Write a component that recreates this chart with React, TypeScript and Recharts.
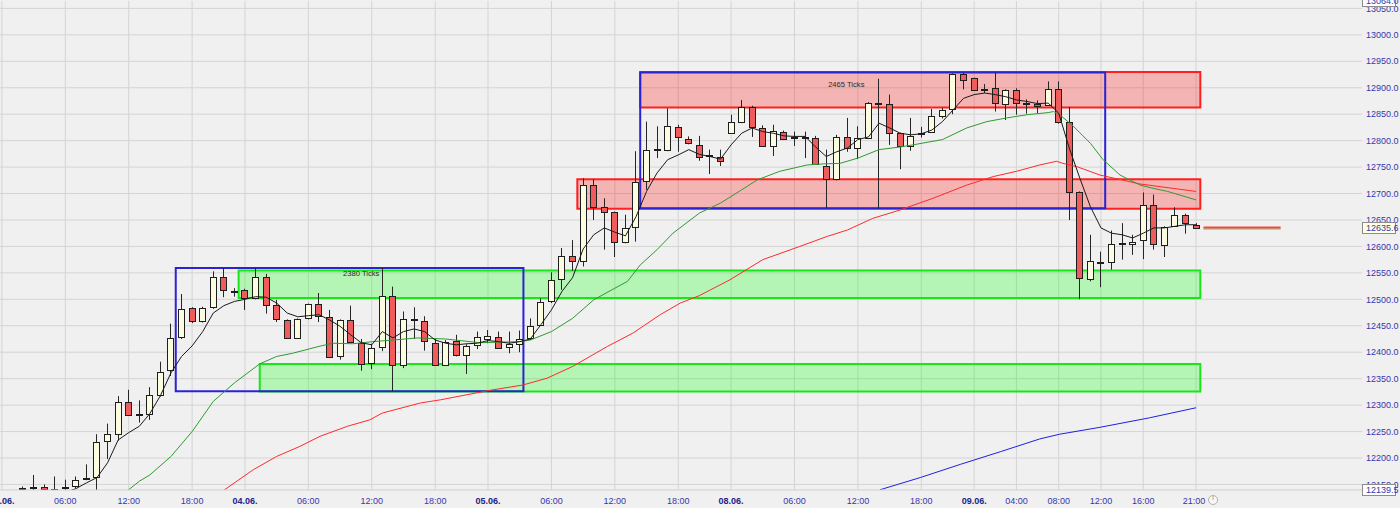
import React from 'react';
import {
  ComposedChart,
  Bar,
  Line,
  XAxis,
  YAxis,
  CartesianGrid,
  ReferenceArea,
  ReferenceLine,
  ReferenceDot,
} from 'recharts';

type Ohlc = [number, number, number, number]; // open, high, low, close

// hourly candles, one list per session (hour 0 = first candle of the day)
const day0306: Ohlc[] = [ // starts at 02:00
  [12142, 12146, 12134, 12143], [12144, 12168, 12134, 12145], [12145, 12150, 12134, 12141],
  [12140, 12165, 12134, 12141], [12143, 12159, 12138, 12145], [12147, 12165, 12143, 12159],
  [12161, 12188, 12158, 12162], [12164, 12245, 12138, 12230], [12232, 12265, 12198, 12245],
  [12246, 12317, 12233, 12306], [12306, 12329, 12280, 12281], [12281, 12309, 12267, 12283],
  [12284, 12334, 12272, 12319], [12320, 12382, 12316, 12363], [12367, 12454, 12355, 12427],
  [12429, 12510, 12425, 12481], [12483, 12485, 12455, 12459], [12459, 12486, 12456, 12483],
  [12485, 12553, 12482, 12543], [12542, 12559, 12504, 12517], [12513, 12521, 12505, 12515],
];
const day0406: Ohlc[] = [
  [12517, 12520, 12480, 12503], [12502, 12559, 12500, 12542], [12543, 12548, 12473, 12489],
  [12490, 12499, 12457, 12463], [12461, 12462, 12425, 12427], [12427, 12464, 12425, 12463],
  [12464, 12492, 12462, 12491], [12491, 12512, 12457, 12468], [12466, 12480, 12390, 12391],
  [12392, 12462, 12386, 12460], [12461, 12488, 12418, 12420], [12418, 12425, 12365, 12378],
  [12379, 12416, 12368, 12408], [12410, 12559, 12402, 12507], [12507, 12524, 12326, 12376],
  [12376, 12477, 12370, 12463], [12460, 12485, 12425, 12462], [12459, 12468, 12403, 12421],
  [12418, 12425, 12375, 12376], [12376, 12423, 12374, 12420], [12421, 12433, 12392, 12395],
  [12395, 12415, 12359, 12411], [12414, 12439, 12406, 12428],
];
const day0506: Ohlc[] = [
  [12425, 12442, 12417, 12430], [12429, 12439, 12407, 12408], [12410, 12439, 12398, 12415],
  [12415, 12441, 12400, 12425], [12427, 12464, 12423, 12450], [12452, 12502, 12451, 12494],
  [12496, 12551, 12493, 12537], [12538, 12597, 12518, 12582], [12582, 12612, 12554, 12573],
  [12573, 12729, 12562, 12716], [12716, 12727, 12650, 12674], [12674, 12691, 12594, 12666],
  [12665, 12666, 12580, 12609], [12609, 12660, 12606, 12634], [12636, 12780, 12609, 12721],
  [12723, 12836, 12707, 12783], [12782, 12827, 12767, 12784], [12783, 12861, 12780, 12827],
  [12825, 12830, 12779, 12807], [12804, 12808, 12793, 12795], [12791, 12809, 12762, 12770],
  [12771, 12783, 12737, 12772], [12770, 12783, 12752, 12762],
];
const day0806: Ohlc[] = [
  [12815, 12849, 12813, 12836], [12836, 12877, 12833, 12863], [12863, 12866, 12807, 12825],
  [12824, 12829, 12789, 12790], [12790, 12830, 12771, 12819], [12817, 12819, 12803, 12804],
  [12806, 12817, 12790, 12807], [12807, 12817, 12767, 12806], [12805, 12809, 12754, 12756],
  [12752, 12783, 12672, 12727], [12727, 12811, 12725, 12807], [12807, 12843, 12779, 12786],
  [12786, 12827, 12765, 12805], [12805, 12873, 12803, 12871], [12871, 12917, 12672, 12870],
  [12869, 12887, 12792, 12814], [12814, 12815, 12746, 12790], [12790, 12843, 12781, 12809],
  [12813, 12826, 12806, 12815], [12816, 12860, 12815, 12846], [12847, 12862, 12842, 12858],
  [12860, 12927, 12850, 12926], [12926, 12928, 12897, 12915],
];
const day0906: Ohlc[] = [
  [12918, 12919, 12895, 12896], [12896, 12907, 12890, 12898], [12899, 12929, 12855, 12871],
  [12870, 12897, 12839, 12895], [12895, 12899, 12849, 12872], [12872, 12878, 12851, 12870],
  [12870, 12876, 12852, 12865], [12868, 12912, 12866, 12897], [12897, 12912, 12832, 12836],
  [12836, 12864, 12650, 12703], [12703, 12704, 12500, 12540], [12538, 12622, 12534, 12573],
  [12569, 12590, 12523, 12571], [12571, 12630, 12556, 12605], [12604, 12644, 12575, 12606],
  [12604, 12622, 12584, 12609], [12612, 12702, 12576, 12679], [12679, 12698, 12594, 12605],
  [12603, 12638, 12580, 12636], [12639, 12674, 12637, 12660], [12660, 12662, 12624, 12644],
  [12640, 12644, 12633, 12635.6],
];

const sessions: { first: number; bars: Ohlc[] }[] = [
  { first: 2, bars: day0306 },
  { first: 23, bars: day0406 },
  { first: 46, bars: day0506 },
  { first: 69, bars: day0806 },
  { first: 92, bars: day0906 },
];

const lastPrice = 12635.6;

// short moving average, one value per candle from index 6
const blackMaFrom = 6;
const blackMa = [
  12135, 12142, 12153, 12163, 12191, 12234, 12248, 12260, 12284, 12318,
  12361, 12392, 12412, 12439, 12474, 12488, 12496, 12500, 12505, 12504,
  12493, 12474, 12467, 12469, 12471, 12461, 12449, 12433, 12418, 12414,
  12439, 12427, 12439, 12444, 12439, 12423, 12417, 12414, 12416, 12417,
  12422, 12420, 12417, 12420, 12425, 12452, 12480, 12515, 12541, 12595,
  12622, 12635, 12627, 12620, 12656, 12704, 12739, 12764, 12773, 12783,
  12774, 12770, 12765, 12792, 12814, 12824, 12817, 12814, 12809, 12808,
  12808, 12788, 12770, 12779, 12786, 12802, 12807, 12833, 12824, 12814,
  12811, 12813, 12820, 12836, 12858, 12880, 12887, 12890, 12887, 12883,
  12877, 12874, 12870, 12871, 12852, 12786, 12729, 12675, 12635, 12625,
  12622, 12616, 12625, 12635, 12635, 12638, 12641, 12641,
];

// slower averages, read as [candle position, price]
const greenMa: [number, number][] = [
  [11.5, 12130], [12, 12140], [13, 12156], [14, 12168], [16, 12203], [18, 12250], [20, 12307],
  [22, 12342], [24.4, 12378], [26, 12392], [27.5, 12398], [30, 12411], [31.3, 12417],
  [33.2, 12416], [35.1, 12420], [37, 12423], [39.3, 12427], [42, 12425], [45.2, 12418],
  [49, 12420], [50, 12423], [52, 12439], [54, 12464], [56, 12499], [58, 12521], [59.2, 12534],
  [60.4, 12565], [62, 12594], [63.5, 12625], [66, 12663], [68, 12682], [70, 12707],
  [71.5, 12726], [73.6, 12742], [76.2, 12754], [77.7, 12756], [79.3, 12757], [81, 12767],
  [83, 12783], [85, 12788], [86.2, 12792], [89, 12802], [91.3, 12824], [93.2, 12836],
  [95.1, 12843], [97, 12849], [99, 12853], [99.5, 12855], [100.1, 12849], [101.4, 12827],
  [103, 12795], [104.2, 12764], [105.8, 12735], [107.7, 12716], [108.9, 12710],
  [110.3, 12704], [113, 12688],
];
const redMa: [number, number][] = [
  [20.6, 12132], [21, 12139], [23.8, 12178], [26, 12203], [28.2, 12222], [30.1, 12241],
  [32.7, 12260], [34.8, 12272], [36, 12285], [39.6, 12304], [41.5, 12310], [46.2, 12328],
  [49.3, 12338], [51.6, 12351], [54, 12373], [57.3, 12411], [59.7, 12436], [62.3, 12471],
  [64.2, 12493], [66, 12507], [68.9, 12537], [72, 12575], [75.5, 12600], [78.1, 12619],
  [80, 12631], [82.4, 12653], [85, 12669], [88.1, 12691], [91.3, 12716], [93.8, 12732],
  [96, 12742], [98.2, 12754], [99.8, 12761], [100.4, 12757], [101.7, 12751], [103.9, 12735],
  [107.7, 12718], [113, 12704],
];
const blueMa: [number, number][] = [
  [82.7, 12132], [83.1, 12140], [86.9, 12163], [90.7, 12188], [94.5, 12212], [98.2, 12236],
  [100.1, 12245], [103.9, 12258], [108.6, 12276], [113, 12295],
];

// support / resistance zones and range boxes
const greenZones = [
  { x1: 22.4, x2: 113.4, y1: 12502.3, y2: 12554.4 },
  { x1: 24.4, x2: 113.4, y1: 12325.7, y2: 12377.5 },
];
const redZones = [
  { x1: 60.4, x2: 113.4, y1: 12862.6, y2: 12930 },
  { x1: 54.45, x2: 113.4, y1: 12671, y2: 12727.2 },
];
const rangeBoxes = [
  { x1: 16.45, x2: 49.35, y1: 12326, y2: 12559, label: '2380 Ticks', lx: 34, ly: 12549 },
  { x1: 60.4, x2: 104.4, y1: 12672, y2: 12929, label: '2465 Ticks', lx: 79.9, ly: 12907 },
];

const xTicks = [0, 6, 12, 18, 23, 29, 35, 41, 46, 52, 58, 64, 69, 75, 81, 87, 92, 96, 100, 104, 108, 113];
const xLabels = [
  '03.06.', '06:00', '12:00', '18:00', '04.06.', '06:00', '12:00', '18:00', '05.06.', '06:00', '12:00',
  '18:00', '08.06.', '06:00', '12:00', '18:00', '09.06.', '04:00', '08:00', '12:00', '16:00', '21:00',
];
const yGrid = [
  12150, 12200, 12250, 12300, 12350, 12400, 12450, 12500, 12550, 12600,
  12650, 12700, 12750, 12800, 12850, 12900, 12950, 13000, 13050,
];
const yMin = 12139.5;
const yMax = 13064.0;

const FONT = "'Liberation Sans Narrow', 'Liberation Sans', Arial, sans-serif";
const LABEL_FONT = "'Liberation Sans', Arial, sans-serif";

const candles = sessions.flatMap((s) =>
  s.bars.map(([o, h, l, c], k) => ({ i: s.first + k, o, h, l, c }))
);
const blackData = blackMa.map((v, k) => ({ i: blackMaFrom + k, v }));
const toRows = (pts: [number, number][]) => pts.map(([i, v]) => ({ i, v }));

function Candle(props: any) {
  const { x, y, width, height, payload } = props;
  if (!payload || height == null) return null;
  const { o, h, l, c } = payload;
  const top = Math.min(y, y + height);
  const span = Math.abs(height);
  const k = h > l ? span / (h - l) : 0;
  const cx = Math.floor(x + width / 2) + 0.5;
  let bTop = Math.round(top + (h - Math.max(o, c)) * k) + 0.5;
  let bBot = Math.round(top + (h - Math.min(o, c)) * k) + 0.5;
  if (bBot - bTop < 1) bBot = bTop + 1;
  const up = c >= o;
  return (
    <g>
      <line x1={cx} x2={cx} y1={top} y2={top + span} stroke="#262626" strokeWidth={1} />
      <rect
        x={cx - 3}
        y={bTop}
        width={6}
        height={bBot - bTop}
        fill={up ? '#fcfce0' : '#f05c5c'}
        stroke="#1e1e1e"
        strokeWidth={1}
      />
    </g>
  );
}

const boxFill: Record<string, string> = {
  [String(lastPrice)]: '#ffffe1',
  [String(yMax)]: '#ffffff',
  [String(yMin)]: '#ffffff',
};

function PriceTick(props: any) {
  const { x, y, payload } = props;
  const v = Number(payload.value);
  const fill = boxFill[String(v)];
  return (
    <g>
      {fill && (
        <rect x={x - 3.5} y={Math.round(y) - 5.5} width={33} height={11} fill={fill} stroke="#8c8c8c" />
      )}
      <text x={x} y={y + 3.2} fontSize={9} fontFamily={FONT} fill="#3636ac">
        {v.toFixed(1)}
      </text>
    </g>
  );
}

function TimeTick(props: any) {
  const { x, y, payload } = props;
  const label = xLabels[xTicks.indexOf(payload.value)] ?? '';
  const isDate = label.endsWith('.');
  return (
    <g>
      <text
        x={x - (label === '21:00' ? 2 : 0)}
        y={y + 13.5}
        textAnchor="middle"
        fontSize={9}
        fontFamily={FONT}
        fontWeight={isDate ? 'bold' : 'normal'}
        fill={isDate ? '#22228a' : '#3636ac'}
      >
        {label}
      </text>
      {label === '21:00' && (
        <g>
          <circle cx={x + 17} cy={y + 10} r={4.5} fill="#f8f8f8" stroke="#b0b0b0" />
          <line x1={x + 17} x2={x + 17} y1={y + 6} y2={y + 10} stroke="#e8a040" />
        </g>
      )}
    </g>
  );
}

export default function App() {
  return (
    <div
      style={{
        position: 'absolute',
        left: 0,
        top: 0,
        width: 1400,
        height: 508,
        background: '#f0f0f0',
      }}
    >
      <ComposedChart
        width={1400}
        height={508}
        data={candles}
        margin={{ top: 1, right: 0, bottom: 0, left: 0 }}
      >
        <CartesianGrid
          stroke="#d4d4d4"
          strokeWidth={1}
          horizontalValues={yGrid}
          verticalValues={xTicks}
        />
        <XAxis
          type="number"
          dataKey="i"
          domain={[-0.18, 128.7]}
          allowDataOverflow
          ticks={xTicks}
          interval={0}
          tick={<TimeTick />}
          tickLine={false}
          tickSize={0}
          tickMargin={0}
          axisLine={{ stroke: '#cfcfcf' }}
          height={18}
        />
        <YAxis
          type="number"
          orientation="right"
          domain={[yMin, yMax]}
          allowDataOverflow
          ticks={[...yGrid, yMax, yMin, lastPrice]}
          interval={0}
          tick={<PriceTick />}
          tickLine={false}
          tickSize={0}
          tickMargin={4}
          axisLine={false}
          width={38}
        />

        {greenZones.map((z, k) => (
          <ReferenceArea
            key={`g${k}`}
            x1={z.x1}
            x2={z.x2}
            y1={z.y1}
            y2={z.y2}
            fill="#00ff00"
            fillOpacity={0.25}
            stroke="#19e619"
            strokeWidth={2}
          />
        ))}
        {redZones.map((z, k) => (
          <ReferenceArea
            key={`r${k}`}
            x1={z.x1}
            x2={z.x2}
            y1={z.y1}
            y2={z.y2}
            fill="#ff0000"
            fillOpacity={0.25}
            stroke="#ff1f1f"
            strokeWidth={2}
          />
        ))}
        {rangeBoxes.map((b, k) => (
          <ReferenceArea
            key={`b${k}`}
            x1={b.x1}
            x2={b.x2}
            y1={b.y1}
            y2={b.y2}
            fill="none"
            stroke="#2b22d4"
            strokeWidth={2}
          />
        ))}

        <Bar
          dataKey={(d: any) => [d.l, d.h]}
          barSize={7}
          shape={<Candle />}
          isAnimationActive={false}
        />

        <Line data={toRows(blueMa)} dataKey="v" type="linear" stroke="#2020e0" strokeWidth={1} dot={false} isAnimationActive={false} />
        <Line data={toRows(redMa)} dataKey="v" type="linear" stroke="#ff2a2a" strokeWidth={1} dot={false} isAnimationActive={false} />
        <Line data={toRows(greenMa)} dataKey="v" type="linear" stroke="#2f9a2f" strokeWidth={1} dot={false} isAnimationActive={false} />
        <Line data={blackData} dataKey="v" type="linear" stroke="#1a1a1a" strokeWidth={1} dot={false} isAnimationActive={false} />

        {rangeBoxes.map((b, k) => (
          <ReferenceDot
            key={`t${k}`}
            x={b.lx}
            y={b.ly}
            r={0}
            fill="none"
            stroke="none"
            label={{ value: b.label, position: 'center', fontSize: 7.6, fill: '#2a2a2a', fontFamily: LABEL_FONT }}
          />
        ))}

        <ReferenceLine
          segment={[{ x: 113.7, y: lastPrice - 2.6 }, { x: 121, y: lastPrice - 2.6 }]}
          stroke="#3ccf3c"
          strokeWidth={1}
        />
        <ReferenceLine
          segment={[{ x: 113.7, y: lastPrice }, { x: 121, y: lastPrice }]}
          stroke="#ff4040"
          strokeWidth={2}
        />
      </ComposedChart>
    </div>
  );
}
